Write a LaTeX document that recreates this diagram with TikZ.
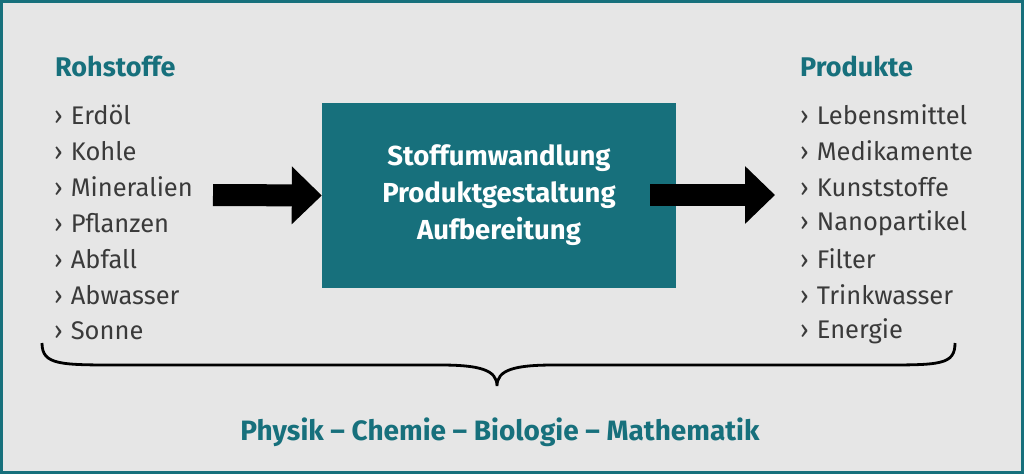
\documentclass[tikz,border=0pt]{standalone}
\usepackage{fontspec}
\setmainfont{Fira Sans}
\usetikzlibrary{arrows.meta}
\definecolor{teal1}{HTML}{17707C}
\definecolor{bg}{HTML}{E6E6E6}
\definecolor{txt}{HTML}{3A3A3A}
\tikzset{item/.style={anchor=west,text=txt,font=\fontsize{25.5}{28}\selectfont,inner sep=0pt},
head/.style={anchor=west,text=teal1,font=\fontsize{27}{30}\selectfont\bfseries,inner sep=0pt},
bigarrow/.style={line width=22pt,-{Triangle[width=56pt,length=30pt]},black}}
\begin{document}
\begin{tikzpicture}[x=1pt,y=-1pt]
\fill[teal1] (0,0) rectangle (1024,474);
\fill[bg] (3,3) rectangle (1021,471);
\useasboundingbox (0,0) rectangle (1024,474);
\node[fill=teal1,minimum width=354pt,minimum height=185pt,inner sep=0pt,text=white,align=center,font=\fontsize{27.5}{37}\selectfont\bfseries] (box) at (499,195.5) {Stoffumwandlung\\Produktgestaltung\\Aufbereitung};
\node[head] (h1) at (55,66) {Rohstoffe};
\node[head] (h2) at (800,66) {Produkte};
\foreach \t [count=\i] in {Erdöl,Kohle,Mineralien,Pflanzen,Abfall,Abwasser,Sonne}
  \node[item] (l\i) at (54,115+36*\i-36) {›\hspace{8pt}\t};
\foreach \t [count=\i] in {Lebensmittel,Medikamente,Kunststoffe,Nanopartikel,Filter,Trinkwasser,Energie}
  \node[item] (r\i) at (800,115+36*\i-36) {›\hspace{8pt}\t};
\coordinate (a1) at (213,195); \coordinate (a2) at (650,195);
\draw[bigarrow] (a1) -- (box.west);
\draw[bigarrow] (a2) -- (775,195);
\coordinate (bl) at (42,343); \coordinate (bm) at (497,386); \coordinate (br) at (955,343);
\draw[black,line width=2.8pt] (bl) .. controls (42,365) and (60,365) .. (120,365) -- (440,365) .. controls (480,365) and (497,370) .. (bm) .. controls (497,370) and (514,365) .. (554,365) -- (880,365) .. controls (940,365) and (955,365) .. (br);
\node[text=teal1,font=\fontsize{28}{30}\selectfont\bfseries] (foot) at (500,432) {Physik – Chemie – Biologie – Mathematik};
\end{tikzpicture}
\end{document}
